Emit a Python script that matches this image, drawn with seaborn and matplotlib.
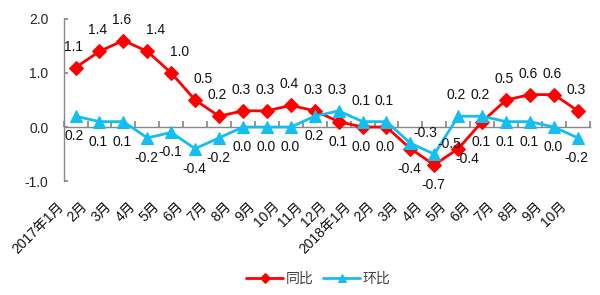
import matplotlib
matplotlib.use("Agg")
import matplotlib.pyplot as plt
import seaborn as sns
import pandas as pd
import numpy as np

months = ["2017年1月", "2月", "3月", "4月", "5月", "6月", "7月", "8月", "9月", "10月", "11月", "12月",
          "2018年1月", "2月", "3月", "4月", "5月", "6月", "7月", "8月", "9月", "10月"]
yoy = [1.1, 1.4, 1.6, 1.4, 1.0, 0.5, 0.2, 0.3, 0.3, 0.4, 0.3, 0.1,
       0.0, 0.0, -0.4, -0.7, -0.4, 0.1, 0.5, 0.6, 0.6, 0.3]
mom = [0.2, 0.1, 0.1, -0.2, -0.1, -0.4, -0.2, 0.0, 0.0, 0.0, 0.2, 0.3,
       0.1, 0.1, -0.3, -0.5, 0.2, 0.2, 0.1, 0.1, 0.0, -0.2]
yticks = [-1.0, 0.0, 1.0, 2.0]

# label placement (style): a=above, b=below, ar=above-right, r=right, br=below-right
yoy_pos = ["a", "a", "a", "ar", "ar", "ar", "a", "a", "a", "a", "a", "b",
           "b", "b", "b", "b", "br", "b", "a", "a", "a", "a"]
mom_pos = ["b", "b", "b", "b", "b", "b", "b", "b", "b", "b", "b", "a",
           "a", "a", "r", "r", "a", "a", "b", "b", "b", "b"]
offsets = {"a": (-2, 21), "b": (-1, -20), "ar": (8, 21), "r": (15, 10), "br": (9, -10)}

sns.set_theme(style="white")
plt.rcParams['font.family'] = ['Liberation Sans', 'Noto Sans CJK SC', 'DejaVu Sans']

df = pd.DataFrame({"idx": np.arange(len(months)), "同比": yoy, "环比": mom})

fig = plt.figure(figsize=(6.0, 2.95), dpi=100)
ax = fig.add_axes([0.106, 0.386, 0.877, 0.550])

red = "#FF0000"
blue = "#12BEF2"
sns.lineplot(data=df, x="idx", y="同比", ax=ax, color=red, marker="D", markersize=7,
             linewidth=2, markeredgecolor=red, label="同比")
sns.lineplot(data=df, x="idx", y="环比", ax=ax, color=blue, marker="^", markersize=8,
             linewidth=2, markeredgecolor=blue, label="环比")

for i, v in enumerate(yoy):
    dx, dy = offsets[yoy_pos[i]]
    ax.annotate(f"{v:.1f}", (i, v), xytext=(dx, dy), textcoords="offset pixels",
                ha="center", va="center", fontsize=10, color="#111111")
for i, v in enumerate(mom):
    dx, dy = offsets[mom_pos[i]]
    ax.annotate(f"{v:.1f}", (i, v), xytext=(dx, dy), textcoords="offset pixels",
                ha="center", va="center", fontsize=10, color="#111111")

ax.set_xlim(-0.5, len(months) - 0.5)
ax.set_ylim(-1.0, 2.0)
ax.set_yticks(yticks)
ax.set_yticklabels([f"{t:.1f}" for t in yticks], fontsize=10)
ax.set_xticks(np.arange(len(months)))
ax.set_xticklabels([])
ax.tick_params(axis="x", length=0, bottom=False)
# category labels under the plot, rotated
for i, m in enumerate(months):
    ax.annotate(m, xy=(i, 0), xycoords=("data", "axes fraction"), xytext=(-14, -23),
                textcoords="offset pixels", rotation=45, rotation_mode="anchor",
                ha="right", va="center", fontsize=10, color="#111111")
ax.tick_params(axis="y", direction="in", length=3, color="#888888", left=True, pad=11)
ax.set_xlabel("")
ax.set_ylabel("")
for s in ["top", "right", "bottom"]:
    ax.spines[s].set_visible(False)
ax.spines["left"].set_color("#888888")
ax.spines["left"].set_linewidth(1)

# zero axis with category boundary ticks
sec = ax.secondary_xaxis(1.0 / 3.0)
sec.set_xticks(np.arange(len(months) + 1) - 0.5)
sec.tick_params(direction="in", length=4, labelbottom=False, color="#888888", bottom=True)
sec.spines["bottom"].set_color("#888888")
sec.spines["bottom"].set_linewidth(1)

ax.get_legend().remove()
h, l = ax.get_legend_handles_labels()
leg = fig.legend(h, l, loc="lower center", bbox_to_anchor=(0.53, -0.012), ncol=2, frameon=False,
                 fontsize=10, handlelength=2.7, columnspacing=0.7, handletextpad=0.15,
                 markerscale=0.7)
for t in leg.get_texts():
    t.set_color("#404040")

fig.savefig("out.png", dpi=100)
